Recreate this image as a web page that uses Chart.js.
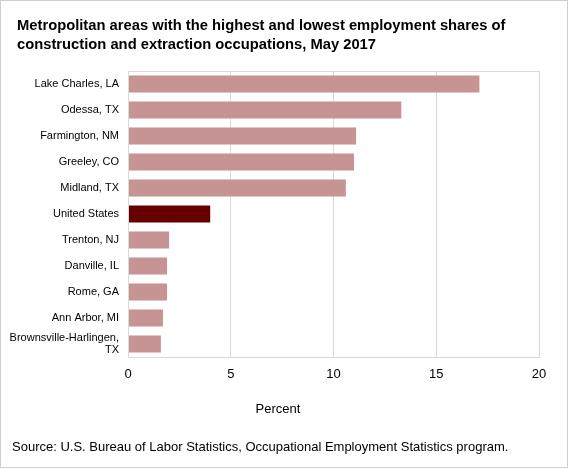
<!DOCTYPE html>
<html>
<head>
<meta charset="utf-8">
<script src="https://cdn.jsdelivr.net/npm/chart.js@4.4.1/dist/chart.umd.min.js"></script>
<style>
  html, body { margin: 0; padding: 0; background: #fff; }
  #wrap { width: 568px; height: 468px; box-sizing: border-box; border: 1px solid #cfcfcf; background: #fff; }
  canvas { display: block; }
</style>
</head>
<body>
<div id="wrap"><canvas id="c" width="566" height="466"></canvas></div>
<script>
const categories = [
  "Lake Charles, LA",
  "Odessa, TX",
  "Farmington, NM",
  "Greeley, CO",
  "Midland, TX",
  "United States",
  "Trenton, NJ",
  "Danville, IL",
  "Rome, GA",
  "Ann Arbor, MI",
  ["Brownsville-Harlingen,", "TX"]
];
const shares = [17.1, 13.3, 11.1, 11.0, 10.6, 4.0, 2.0, 1.9, 1.9, 1.7, 1.6];
const xTickValues = [0, 5, 10, 15, 20];
const titleLines = [
  "Metropolitan areas with the highest and lowest employment shares of",
  "construction and extraction occupations, May 2017"
];
const axisTitle = "Percent";
const sourceNote = "Source: U.S. Bureau of Labor Statistics, Occupational Employment Statistics program.";

const FONT = "'Liberation Sans', Arial, Helvetica, sans-serif";
const PINK = "#c69492";
const DARK = "#660000";
const GRID = "#d9d9d9";

const barColors = categories.map(c => (c === "United States" ? DARK : PINK));

const plotBorder = {
  id: "plotBorder",
  afterDatasetsDraw(chart) {
    const a = chart.chartArea, ctx = chart.ctx;
    ctx.save();
    ctx.strokeStyle = GRID;
    ctx.lineWidth = 1;
    ctx.strokeRect(Math.round(a.left) + 0.5, Math.round(a.top) + 0.5,
                   Math.round(a.right - a.left), Math.round(a.bottom - a.top));
    ctx.restore();
  }
};

// Shift the title and the axis caption boxes so they start at the text margin
const textMargin = {
  id: "textMargin",
  afterLayout(chart) {
    chart.boxes.forEach(b => {
      if (b.options && (b.options.text === titleLines || b.options.text === axisTitle)) {
        b.left = 16;
      }
    });
  }
};

const sourcePlugin = {
  id: "sourceNote",
  afterDraw(chart) {
    const ctx = chart.ctx;
    ctx.save();
    ctx.font = "13px " + FONT;
    ctx.fillStyle = "#000";
    ctx.textAlign = "left";
    ctx.textBaseline = "alphabetic";
    ctx.fillText(sourceNote, 11, 450);
    ctx.restore();
  }
};

new Chart(document.getElementById("c"), {
  type: "bar",
  data: {
    labels: categories,
    datasets: [{
      data: shares,
      backgroundColor: barColors,
      borderWidth: 0,
      categoryPercentage: 1.0,
      barPercentage: 0.65
    }]
  },
  options: {
    indexAxis: "y",
    responsive: false,
    animation: false,
    devicePixelRatio: 1,
    layout: { padding: { left: 0, right: 28, top: 0, bottom: 49.3 } },
    plugins: {
      legend: { display: false },
      tooltip: { enabled: false },
      title: {
        display: true,
        text: titleLines,
        align: "start",
        color: "#000",
        font: { family: FONT, size: 14.75, weight: "bold", lineHeight: "19px" },
        padding: { top: 15.6, bottom: 16.4 }
      },
      subtitle: {
        display: true,
        position: "bottom",
        text: axisTitle,
        color: "#000",
        font: { family: FONT, size: 13, weight: "normal", lineHeight: 1.2 },
        padding: { top: 9.1, bottom: 0 }
      }
    },
    scales: {
      x: {
        min: 0,
        max: 20,
        afterBuildTicks(scale) { scale.ticks = xTickValues.map(v => ({ value: v })); },
        afterFit(scale) { scale.height = 36; },
        grid: { color: GRID, drawTicks: false, tickLength: 0 },
        border: { display: false },
        ticks: {
          padding: 10,
          color: "#000",
          font: { family: FONT, size: 13 }
        }
      },
      y: {
        afterFit(scale) { scale.width = 127; },
        grid: { display: false, drawTicks: false, tickLength: 0 },
        border: { display: true, color: GRID, width: 1 },
        ticks: {
          padding: 9,
          color: "#000",
          autoSkip: false,
          font: { family: FONT, size: 11, lineHeight: 1.1 }
        }
      }
    }
  },
  plugins: [textMargin, plotBorder, sourcePlugin]
});
</script>
</body>
</html>
